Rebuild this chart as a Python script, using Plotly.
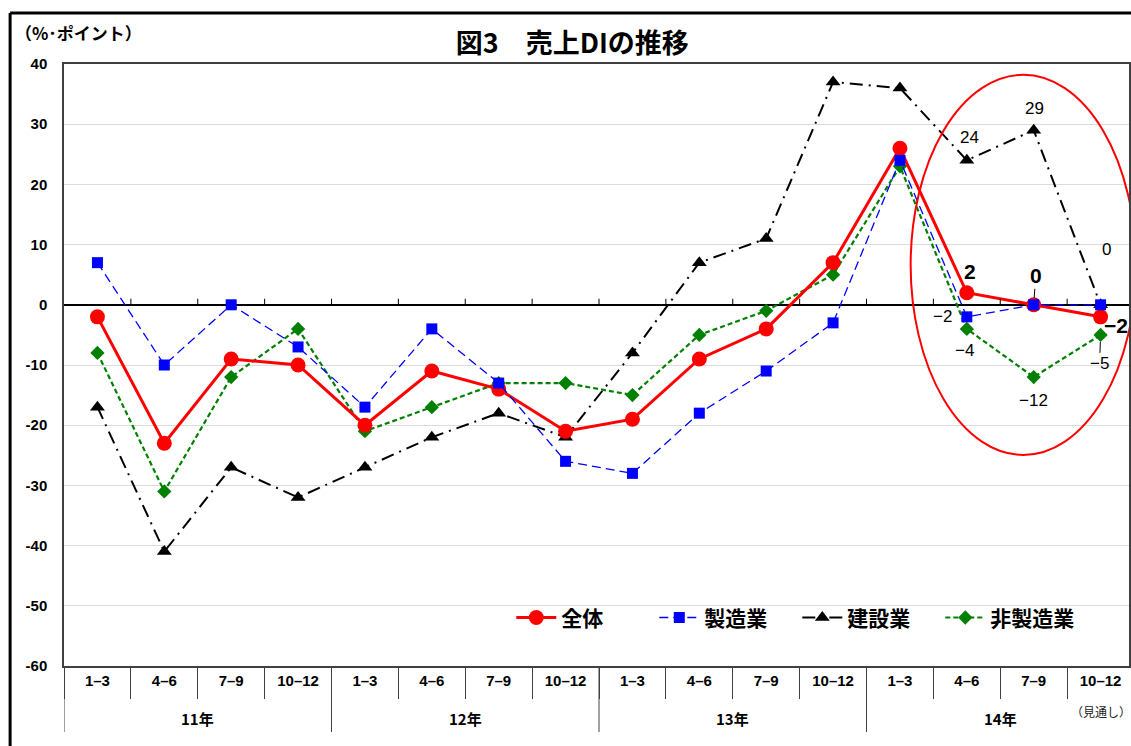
import plotly.graph_objects as go

# Quarterly sales DI (%-points), 2011 Q1 through 2014 Q4 (last quarter is a forecast)
quarters = ["1–3", "4–6", "7–9", "10–12"] * 4
years = ["11年", "12年", "13年", "14年"]

overall = [-2, -23, -9, -10, -20, -11, -14, -21, -19, -9, -4, 7, 26, 2, 0, -2]
manufacturing = [7, -10, 0, -7, -17, -4, -13, -26, -28, -18, -11, -3, 24, -2, 0, 0]
construction = [-17, -41, -27, -32, -27, -22, -18, -22, -8, 7, 11, 37, 36, 24, 29, 0]
non_manufacturing = [-8, -31, -12, -4, -21, -17, -13, -13, -15, -5, -1, 5, 23, -4, -12, -5]

y_ticks = list(range(-60, 41, 10))

FONT = "Liberation Sans, Noto Sans CJK JP, sans-serif"
JFONT = "Noto Sans CJK JP, Liberation Sans, sans-serif"

idx = list(range(len(quarters)))

fig = go.Figure()

fig.add_trace(go.Scatter(
    x=idx, y=construction, name="<b>建設業</b>", legendrank=3,
    mode="lines+markers",
    line=dict(color="black", width=2, dash="13px,6px,2px,6px"),
    marker=dict(symbol="triangle-up", size=13, color="black"),
))
fig.add_trace(go.Scatter(
    x=idx, y=non_manufacturing, name="<b>非製造業</b>", legendrank=4,
    mode="lines+markers",
    line=dict(color="#008000", width=2.2, dash="5px,3px"),
    marker=dict(symbol="diamond", size=11, color="#008000"),
))
fig.add_trace(go.Scatter(
    x=idx, y=overall, name="<b>全体</b>", legendrank=1,
    mode="lines+markers",
    line=dict(color="#ff0000", width=3),
    marker=dict(symbol="circle", size=15, color="#ff0000"),
))
fig.add_trace(go.Scatter(
    x=idx, y=manufacturing, name="<b>製造業</b>", legendrank=2,
    mode="lines+markers",
    line=dict(color="#0000ff", width=1.3, dash="9px,5px"),
    marker=dict(symbol="square", size=11, color="#0000ff"),
))

# value labels for the last three quarters
annotations = []

def label(i, series, text, dx, dy, size=17, bold=False, leader=False):
    ann = dict(
        x=i, y=series[i], xref="x", yref="y", text=f"<b>{text}</b>" if bold else text,
        font=dict(family=FONT, size=size, color="black"),
    )
    if leader:
        ann.update(showarrow=True, arrowhead=0, arrowwidth=1, arrowcolor="black",
                   ax=dx, ay=-dy, standoff=7)
    else:
        ann.update(showarrow=False, xshift=dx, yshift=dy)
    annotations.append(ann)

def fmt(v):
    return f"−{abs(v)}" if v < 0 else str(v)

label(13, construction, fmt(construction[13]), 3, 23)
label(14, construction, fmt(construction[14]), 1, 22)
label(15, construction, fmt(construction[15]), 6, 55)
label(13, overall, fmt(overall[13]), 3, 21, size=21, bold=True)
label(14, overall, fmt(overall[14]), 2, 29, size=21, bold=True, leader=True)
label(15, overall, fmt(overall[15]), 15, -9, size=21, bold=True)
label(13, manufacturing, fmt(manufacturing[13]), -24, 0)
label(13, non_manufacturing, fmt(non_manufacturing[13]), -2, -22)
label(14, non_manufacturing, fmt(non_manufacturing[14]), 0, -23)
label(15, non_manufacturing, fmt(non_manufacturing[15]), -1, -29, leader=True)

# year labels under the quarter labels
for k, yr in enumerate(years):
    annotations.append(dict(
        x=4 * k + 1.5, y=-0.0864, xref="x", yref="paper", text=f"<b>{yr}</b>",
        showarrow=False, yanchor="middle",
        font=dict(family=JFONT, size=15, color="black"),
    ))
annotations.append(dict(
    x=15, y=-0.0764, xref="x", yref="paper", text="（見通し）",
    showarrow=False, yanchor="middle",
    font=dict(family=JFONT, size=12, color="#222"),
))
annotations.append(dict(
    x=-0.0475, y=1.053, xref="paper", yref="paper", text="<b>（%･ポイント）</b>",
    showarrow=False, xanchor="left", yanchor="middle",
    font=dict(family=JFONT, size=17, color="black"),
))

shapes = []
# year separators below the axis
for b in [-0.5, 3.5, 7.5, 11.5]:
    shapes.append(dict(type="line", xref="x", yref="paper", x0=b, x1=b, y0=0, y1=-0.1096,
                       line=dict(color="#404040", width=1)))
# small ticks on the zero line
for b in range(15):
    shapes.append(dict(type="line", xref="x", yref="y", x0=b + 0.5, x1=b + 0.5, y0=0, y1=1,
                       line=dict(color="black", width=1)))
# outer frame
shapes.append(dict(type="line", xref="paper", yref="paper", x0=-0.0506, x1=1.01, y0=1.0847, y1=1.0847,
                   line=dict(color="black", width=3)))
shapes.append(dict(type="line", xref="paper", yref="paper", x0=-0.0506, x1=-0.0506, y0=1.0847, y1=-0.14,
                   line=dict(color="black", width=3)))
# highlight around the latest quarters
shapes.append(dict(type="circle", xref="x", yref="y", x0=12.16, x1=15.53, y0=-24.95, y1=38.2,
                   line=dict(color="#ff0000", width=2)))

fig.update_layout(
    width=1131, height=746,
    margin=dict(l=64, r=0, t=64, b=80),
    paper_bgcolor="white", plot_bgcolor="white",
    title=dict(text="<b>図3　売上DIの推移</b>", x=0.506, y=0.942, xanchor="center", yanchor="middle",
               font=dict(family=JFONT, size=27, color="black")),
    showlegend=True,
    legend=dict(orientation="h", x=0.42, y=0.08, xanchor="left", yanchor="middle",
                font=dict(family=JFONT, size=21, color="black"), bgcolor="rgba(0,0,0,0)",
                itemwidth=40, entrywidth=88, traceorder="normal"),
    annotations=annotations,
    shapes=shapes,
    font=dict(family=FONT),
)
fig.update_xaxes(
    range=[-0.5, 15.425], tickmode="array", tickvals=idx,
    ticktext=[f"<b>{q}</b>" for q in quarters],
    tickfont=dict(family=FONT, size=15, color="black"),
    ticks="", ticklabelstandoff=0,
    minor=dict(tickmode="linear", tick0=0.5, dtick=1, ticks="outside", ticklen=31,
               tickcolor="#404040", tickwidth=1),
    showgrid=False, zeroline=False,
    showline=True, linecolor="#404040", linewidth=1.5, mirror=True,
)
fig.update_yaxes(
    range=[-60, 40], tickmode="array", tickvals=y_ticks,
    ticktext=[f"<b>{v}</b>" for v in y_ticks],
    tickfont=dict(family=FONT, size=15, color="black"),
    ticks="", ticklabelstandoff=12,
    showgrid=True, gridcolor="#dcdcdc", gridwidth=1,
    zeroline=True, zerolinecolor="black", zerolinewidth=2,
    showline=True, linecolor="#404040", linewidth=1.5, mirror=True,
)

fig.write_html("out.html")
